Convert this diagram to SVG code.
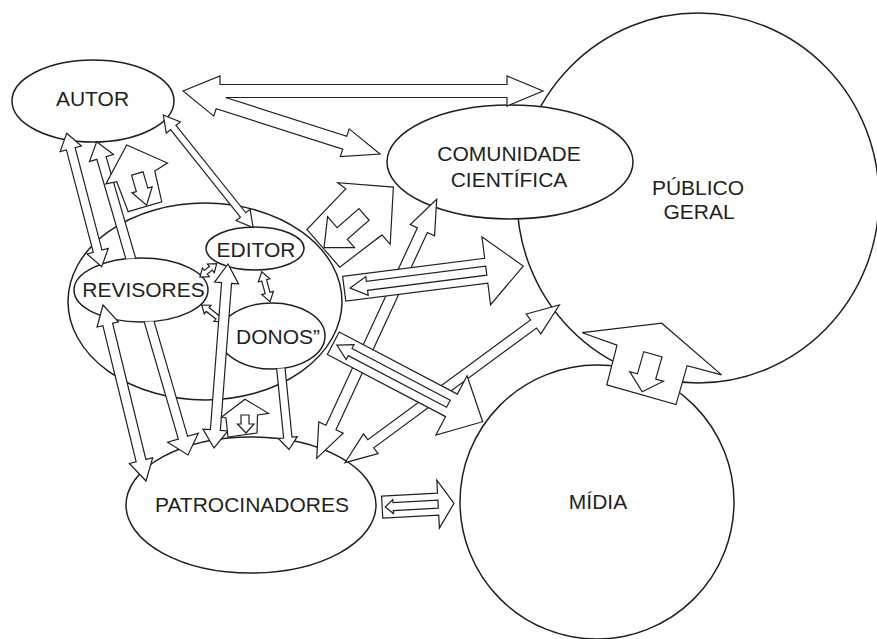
<svg xmlns="http://www.w3.org/2000/svg" width="877" height="639" viewBox="0 0 877 639">
<style>
.n{fill:#fff;stroke:#231f20;stroke-width:1.5}
.a{fill:#fff;stroke:#231f20;stroke-width:1.2;stroke-linejoin:miter}
.t{font-family:"Liberation Sans",Arial,Helvetica,sans-serif;font-size:21px;fill:#231f20;text-anchor:middle}
</style>
<defs>
<clipPath id="noRev"><path clip-rule="evenodd" d="M0,0 H877 V639 H0 Z M74,290 A67,32 0 1,0 208,290 A67,32 0 1,0 74,290 Z"/></clipPath>
<clipPath id="noDon"><path clip-rule="evenodd" d="M0,0 H877 V639 H0 Z M219,336 A53,33 0 1,0 325,336 A53,33 0 1,0 219,336 Z"/></clipPath>
</defs>
<rect width="877" height="639" fill="#fff"/>
<g id="publico"><ellipse class="n" cx="698" cy="198" rx="181" ry="185"/><text class="t" x="698" y="195">PÚBLICO</text><text class="t" x="699" y="219">GERAL</text></g>
<g id="midia"><circle class="n" cx="597" cy="502" r="137"/><text class="t" x="598" y="509">MÍDIA</text></g>
<g id="comunidade"><ellipse class="n" cx="510" cy="162" rx="123" ry="57"/><text class="t" x="509" y="161">COMUNIDADE</text><text class="t" x="509" y="187">CIENTÍFICA</text></g>
<g id="revista"><ellipse class="n" cx="205" cy="301.5" rx="137" ry="98.5"/></g>
<g id="patrocinadores"><ellipse class="n" cx="251" cy="505" rx="125" ry="68"/><text class="t" x="252" y="512">PATROCINADORES</text></g>
<g id="autor"><ellipse class="n" cx="93" cy="101" rx="81" ry="41"/><text class="t" x="92.5" y="106">AUTOR</text></g>
<g id="editor"><ellipse class="n" cx="255" cy="248.5" rx="49" ry="21.5"/><text class="t" x="256" y="257">EDITOR</text></g>
<g id="revisores"><ellipse class="n" cx="141" cy="290" rx="67" ry="32"/><text class="t" x="143.5" y="297">REVISORES</text></g>
<g id="donos"><ellipse class="n" cx="272" cy="336" rx="53" ry="33"/><text class="t" x="278" y="344">DONOS”</text></g>
<g id="connectors">
<g clip-path="url(#noRev)"><polygon class="a" transform="translate(96.7,141.7) rotate(73.75)" points="0,0 17,-12.5 17,-4.8 308.3,-4.8 308.3,-16 326.3,0 308.3,16 308.3,4.8 17,4.8 17,12.5"/></g>
<polygon class="a" transform="translate(66.7,133.3) rotate(75.3)" points="0,0 16,-11 16,-4.5 121.9,-4.5 121.9,-11 137.9,0 121.9,11 121.9,4.5 16,4.5 16,11"/>
<g clip-path="url(#noDon)"><polygon class="a" transform="translate(279.5,355) rotate(84.26)" points="0,-4.2 83,-4.2 83,-9.5 95,0 83,9.5 83,4.2 0,4.2"/></g>
<path class="a" d="M183,91 L220,76 L220,84.5 L507,84.5 L507,76 L543,91 L507,106 L507,97.5 L225.6,97.5 L346.8,136.3 L349.2,128.9 L380,154 L340.3,156.5 L342.7,149.1 L216.2,108.7 L213.8,116.1 Z"/>
<polygon class="a" transform="translate(163.3,115) rotate(51.4)" points="0,0 16,-9 16,-3.5 127.9,-3.5 127.9,-9 143.9,0 127.9,9 127.9,3.5 16,3.5 16,9"/>
<polygon class="a" transform="translate(261.7,271.7) rotate(74.5)" points="0,0 9,-6 9,-2.5 22.1,-2.5 22.1,-6 31.1,0 22.1,6 22.1,2.5 9,2.5 9,6"/>
<polygon class="a" transform="translate(200,277) rotate(-38.7)" points="0,0 7.5,-5.5 7.5,-2.3 13.9,-2.3 13.9,-5.5 21.4,0 13.9,5.5 13.9,2.3 7.5,2.3 7.5,5.5"/>
<polygon class="a" transform="translate(201.7,305) rotate(37.7)" points="0,0 7.5,-5.5 7.5,-2.3 19.8,-2.3 19.8,-5.5 27.3,0 19.8,5.5 19.8,2.3 7.5,2.3 7.5,5.5"/>
<polygon class="a" transform="translate(228,264) rotate(94.35)" points="0,0 19,-12 19,-5 166.5,-5 166.5,-12.5 184.5,0 166.5,12.5 166.5,5 19,5 19,12"/>
<polygon class="a" transform="translate(103,305) rotate(76.27)" points="0,0 20,-11 20,-5 160.2,-5 160.2,-12 181.2,0 160.2,12 160.2,5 20,5 20,11"/>
<polygon class="a" transform="translate(436.7,199.3) rotate(114.86)" points="0,0 34,-13.4 34,-5.5 251.5,-5.5 251.5,-13.4 285.5,0 251.5,13.4 251.5,5.5 34,5.5 34,13.4"/>
<polygon class="a" transform="translate(345,462.7) rotate(-36.35)" points="0,0 32,-12.3 32,-5 234.1,-5 234.1,-12.3 266.1,0 234.1,12.3 234.1,5 32,5 32,12.3"/>
<g transform="translate(344.2,288.8) rotate(-7.25)"><polygon class="a" points="0,-12.5 143.2,-12.5 143.2,-34.3 180.5,0 143.2,34.3 143.2,12.5 0,12.5"/><polygon class="a" points="6,0 23,-9.5 23,-4.5 143.2,-4.5 143.2,4.5 23,4.5 23,9.5"/></g>
<g transform="translate(333.3,343.3) rotate(27.7)"><polygon class="a" points="0,-12.7 133.5,-12.7 133.5,-33.5 168.7,0 133.5,33.5 133.5,12.7 0,12.7"/><polygon class="a" points="4,0 19,-8.4 19,-4 130,-4 130,4 19,4 19,8.4"/></g>
<g transform="translate(382.2,507.2) rotate(-3.1)"><polygon class="a" points="0,-11 56,-11 56,-24 71.9,0 56,24 56,11 0,11"/><polygon class="a" points="3,0 11,-7 11,-4 56,-4 56,4 11,4 11,7"/></g>
<g transform="translate(145,206.7) rotate(-16.5)"><polygon class="a" points="-17.5,0 17.5,0 19.5,-31.5 34,-35.5 0,-64.4 -31,-33 -20,-32"/><polygon class="a" points="2,-1 12.5,-17 8,-17 8,-34 -4,-34 -4,-17 -8.5,-17"/></g>
<g><polygon class="a" points="228,437 257,433 257.5,415 268.5,413.3 245,399.3 221.7,417 226,418"/><polygon class="a" points="241,415 249,415 249,424 254,424 246,433 237.5,424 241,424"/></g>
<g transform="translate(641.4,394.7) rotate(15.9)"><polygon class="a" points="-36,0 36,0 36,-40.5 71.7,-41 0,-74.3 -73.9,-43.4 -37,-41"/><polygon class="a" points="-9.5,-42 9.5,-42 9.5,-19 17.5,-19 0,-3 -17.5,-19 -9.5,-19"/></g>
<g transform="translate(323.3,248.3) rotate(48.9)"><polygon class="a" points="-25,0 25,0 28.5,-53 41,-53 0,-93 -40,-54 -30,-56"/><polygon class="a" points="-6.5,-53 9,-53 9,-24 20,-24 0,-1 -21,-24 -6.5,-24"/></g>
</g>
</svg>
